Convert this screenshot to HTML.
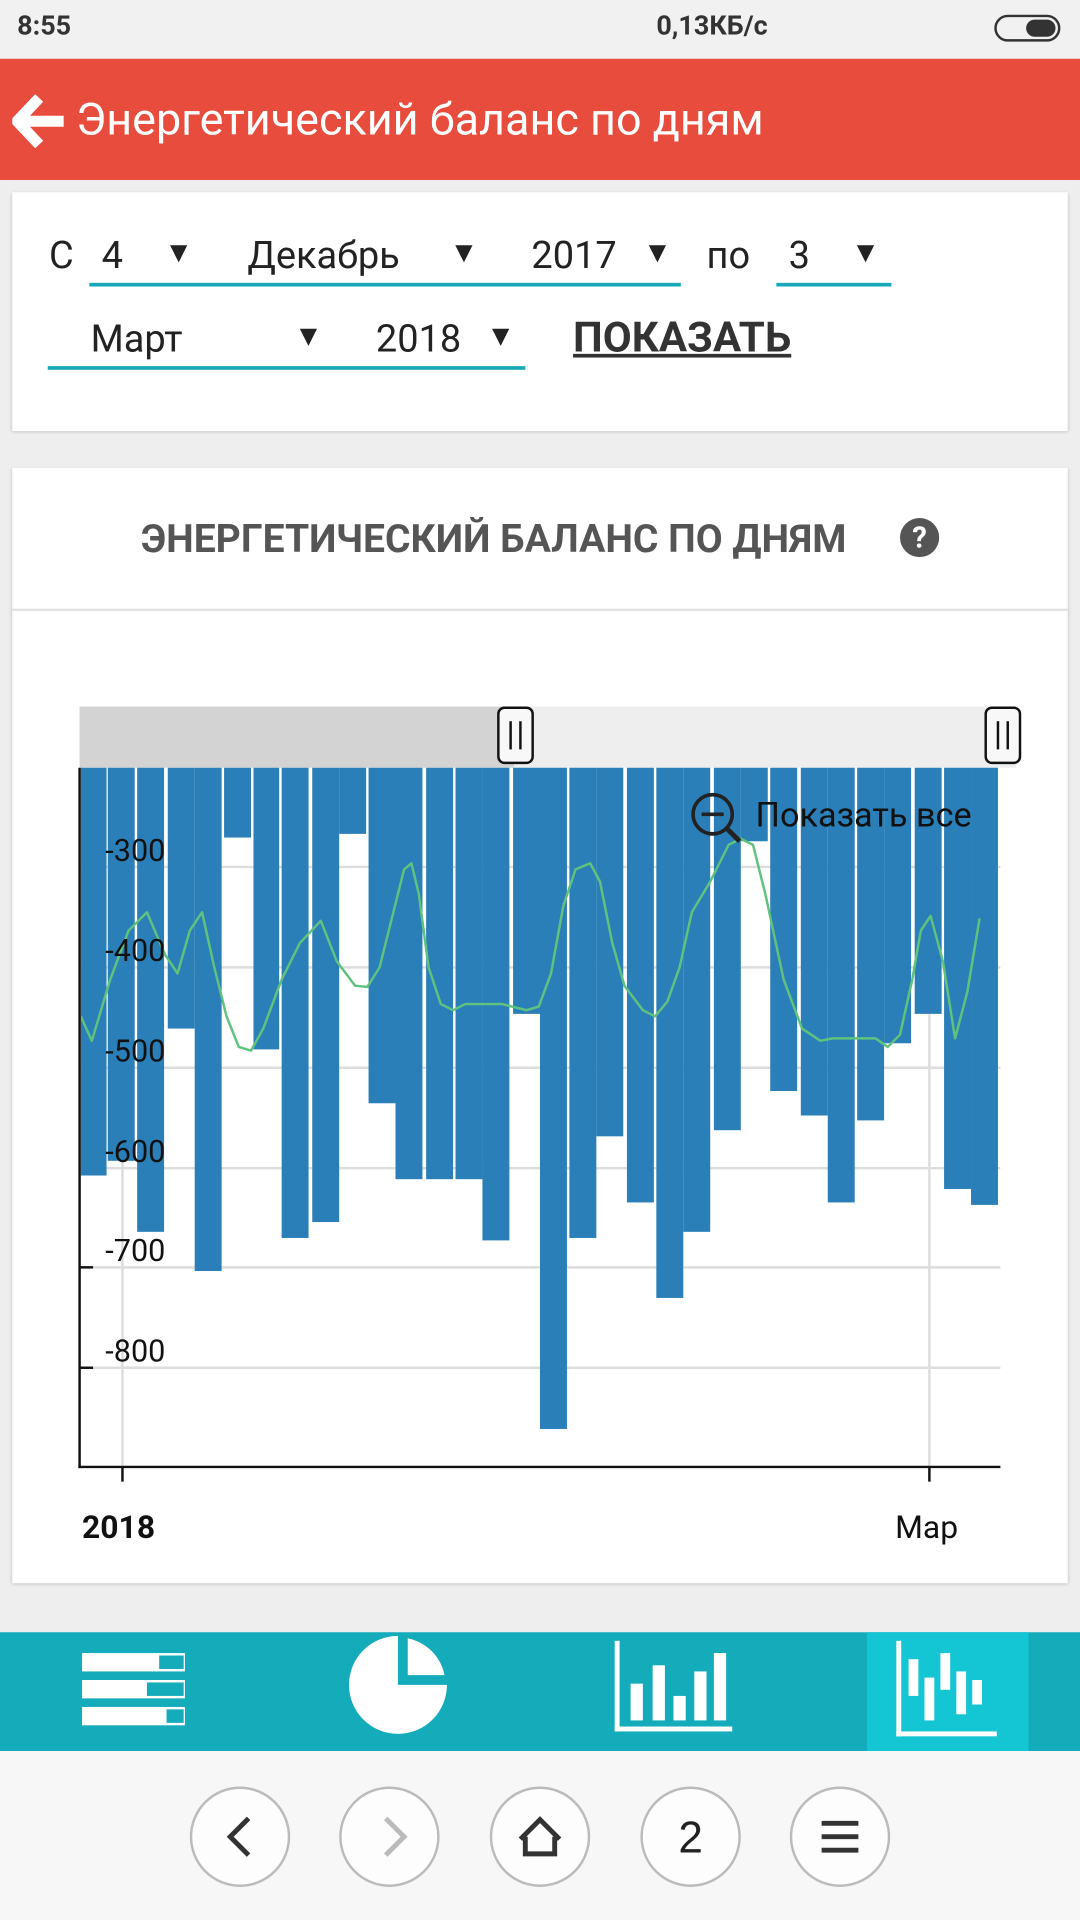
<!DOCTYPE html>
<html><head><meta charset="utf-8"><style>
html,body{margin:0;padding:0;width:1080px;height:1920px;overflow:hidden;background:#eeeeee;}
#w{position:absolute;left:0;top:0;width:882px;height:1568px;transform:scale(1.22449);transform-origin:0 0;font-family:"Roboto","Liberation Sans","DejaVu Sans",sans-serif;}
.abs{position:absolute;}
.card{position:absolute;background:#fff;box-shadow:0 1px 3px rgba(0,0,0,.2);}
.sel{position:absolute;font-size:31px;color:#222;}
.ul{position:absolute;height:3px;background:#17a9b9;}
</style></head><body><div id="w">
<div class="abs" style="left:0;top:0;width:882px;height:48px;background:#f1f1f1;"></div>
<div class="abs" style="left:14px;top:9px;font-size:22px;font-weight:bold;color:#333;">8:55</div>
<div class="abs" style="left:536px;top:9px;font-size:22px;font-weight:bold;color:#333;">0,13КБ/с</div>
<div class="abs" style="left:812px;top:12px;width:54px;height:22px;border:2px solid #333;border-radius:12px;box-sizing:border-box;"><div style="position:absolute;right:2px;top:2px;width:24px;height:14px;background:#333;border-radius:7px;"></div></div>
<div class="abs" style="left:0;top:48px;width:882px;height:99px;background:#e74c3c;"></div>
<svg class="abs" style="left:10px;top:76px" width="44" height="46"><path d="M22 4 L4 23 L22 42 M6 23 H42" stroke="#fff" stroke-width="9" fill="none" stroke-linejoin="round"/></svg>
<div class="abs" style="left:62px;top:76px;font-size:36.7px;color:#fff;">Энергетический баланс по дням</div>

<div class="card" style="left:10px;top:157px;width:862px;height:195px;"></div>
<div class="sel" style="left:40px;top:190px;">С</div>
<div class="sel" style="left:83px;top:190px;">4</div><div class="sel" style="left:134px;top:192px;font-size:24px">▼</div>
<div class="sel" style="left:202px;top:190px;">Декабрь</div><div class="sel" style="left:367px;top:192px;font-size:24px">▼</div>
<div class="sel" style="left:434px;top:190px;">2017</div><div class="sel" style="left:525px;top:192px;font-size:24px">▼</div>
<div class="ul" style="left:73px;top:231px;width:483px;"></div>
<div class="sel" style="left:577px;top:190px;">по</div>
<div class="sel" style="left:644px;top:190px;">3</div><div class="sel" style="left:695px;top:192px;font-size:24px">▼</div>
<div class="ul" style="left:634px;top:231px;width:94px;"></div>
<div class="sel" style="left:74px;top:258px;">Март</div><div class="sel" style="left:240px;top:260px;font-size:24px">▼</div>
<div class="sel" style="left:307px;top:258px;">2018</div><div class="sel" style="left:397px;top:260px;font-size:24px">▼</div>
<div class="ul" style="left:39px;top:299px;width:390px;"></div>
<div class="sel" style="left:468px;top:256px;font-weight:bold;text-decoration:underline;color:#333;font-size:34.3px;">ПОКАЗАТЬ</div>

<div class="card" style="left:10px;top:382px;width:862px;height:911px;"></div>
<div class="abs" style="left:115px;top:421px;font-size:31.9px;font-weight:bold;color:#555;">ЭНЕРГЕТИЧЕСКИЙ БАЛАНС ПО ДНЯМ</div>
<div class="abs" style="left:735px;top:423px;width:32px;height:32px;border-radius:50%;background:#555;color:#fff;font-weight:bold;font-size:24px;text-align:center;line-height:32px;">?</div>
<div class="abs" style="left:10px;top:497px;width:862px;height:2px;background:#e3e3e3;"></div>

<svg class="abs" style="left:0;top:0" width="882" height="1568">
<rect x="65" y="577" width="355" height="50" fill="#d3d3d3"/>
<rect x="420" y="577" width="410" height="50" fill="#eeeeee"/>
<g stroke="#ddd" stroke-width="2">
<line x1="65" y1="708" x2="817" y2="708"/><line x1="65" y1="790" x2="817" y2="790"/><line x1="65" y1="872" x2="817" y2="872"/><line x1="65" y1="954" x2="817" y2="954"/><line x1="65" y1="1035" x2="817" y2="1035"/><line x1="65" y1="1117" x2="817" y2="1117"/>
<line x1="100" y1="627" x2="100" y2="1198"/><line x1="759" y1="627" x2="759" y2="1198"/>
</g>
<g fill="#2b7fb8">
<rect x="66" y="627" width="21" height="333"/><rect x="88" y="627" width="22" height="321"/>
<rect x="112" y="627" width="22" height="379"/><rect x="137" y="627" width="22" height="213"/>
<rect x="159" y="627" width="22" height="411"/><rect x="183" y="627" width="22" height="57"/>
<rect x="207" y="627" width="21" height="230"/><rect x="230" y="627" width="22" height="384"/>
<rect x="255" y="627" width="22" height="371"/><rect x="277" y="627" width="22" height="54"/>
<rect x="301" y="627" width="22" height="274"/><rect x="323" y="627" width="22" height="336"/>
<rect x="348" y="627" width="22" height="336"/><rect x="372" y="627" width="22" height="336"/>
<rect x="394" y="627" width="22" height="386"/><rect x="419" y="627" width="22" height="201"/>
<rect x="441" y="627" width="22" height="540"/><rect x="465" y="627" width="22" height="384"/>
<rect x="487" y="627" width="22" height="301"/><rect x="512" y="627" width="22" height="355"/>
<rect x="536" y="627" width="22" height="433"/><rect x="558" y="627" width="22" height="379"/>
<rect x="583" y="627" width="22" height="296"/><rect x="605" y="627" width="22" height="60"/>
<rect x="629" y="627" width="22" height="264"/><rect x="654" y="627" width="22" height="284"/>
<rect x="676" y="627" width="22" height="355"/><rect x="700" y="627" width="22" height="288"/>
<rect x="722" y="627" width="22" height="225"/><rect x="747" y="627" width="22" height="201"/>
<rect x="771" y="627" width="22" height="344"/><rect x="793" y="627" width="22" height="357"/>
</g>
<polyline fill="none" stroke="#5fc27e" stroke-width="2" stroke-linejoin="round" points="66,830 75,850 90,800 105,760 120,745 135,780 145,795 155,760 165,745 175,790 185,830 195,855 205,858 215,840 230,800 245,770 262,752 275,785 290,805 300,806 310,790 320,750 330,710 336,705 342,730 350,790 360,820 370,825 380,820 410,820 430,825 440,822 450,795 460,740 470,710 482,705 490,720 500,770 510,805 525,825 535,830 545,818 555,790 565,745 580,720 595,690 605,685 615,690 625,730 640,800 655,840 670,850 680,848 715,848 725,855 735,845 745,800 752,760 760,748 770,785 780,848 790,810 800,750"/>
<g font-size="25" fill="#111" font-family="Roboto, Liberation Sans, sans-serif">
<text x="86" y="703">-300</text><text x="86" y="785">-400</text><text x="86" y="867">-500</text><text x="86" y="949">-600</text><text x="86" y="1030">-700</text><text x="86" y="1112">-800</text>
<text x="617" y="675" font-size="28">Показать все</text>
<text x="67" y="1256" font-weight="bold" font-size="26">2018</text><text x="731" y="1256" font-size="26">Мар</text>
</g>
<circle cx="582" cy="665" r="16" fill="none" stroke="#222" stroke-width="3"/><line x1="573" y1="665" x2="591" y2="665" stroke="#222" stroke-width="3"/><line x1="594" y1="677" x2="604" y2="687" stroke="#222" stroke-width="4"/>
<g stroke="#111" stroke-width="2" fill="none">
<line x1="65" y1="627" x2="65" y2="1199"/><line x1="64" y1="1198" x2="817" y2="1198"/>
<line x1="100" y1="1198" x2="100" y2="1210"/><line x1="759" y1="1198" x2="759" y2="1210"/>
<line x1="65" y1="1035" x2="76" y2="1035"/><line x1="65" y1="1117" x2="76" y2="1117"/>
<rect x="407" y="578" width="28" height="45" rx="5" fill="#f8f8f8"/><rect x="805" y="578" width="28" height="45" rx="5" fill="#f8f8f8"/>
<line x1="417" y1="589" x2="417" y2="612"/><line x1="425" y1="589" x2="425" y2="612"/><line x1="815" y1="589" x2="815" y2="612"/><line x1="823" y1="589" x2="823" y2="612"/>
</g>
<rect x="0" y="1333" width="882" height="97" fill="#14abbb"/>
<rect x="708" y="1333" width="132" height="97" fill="#14c5d4"/>
<g fill="#fff">
<rect x="67" y="1350" width="84" height="15"/><rect x="67" y="1372" width="84" height="15"/><rect x="67" y="1394" width="84" height="15"/>
<path d="M325 1336 A40 40 0 1 0 365 1376 L325 1376 Z"/><path d="M333 1338 A38 38 0 0 1 363 1368 L333 1368 Z"/>
<rect x="502" y="1340" width="4" height="74"/><rect x="502" y="1410" width="96" height="4"/>
<rect x="515" y="1375" width="10" height="30"/><rect x="533" y="1360" width="10" height="45"/><rect x="550" y="1385" width="10" height="20"/><rect x="567" y="1365" width="10" height="40"/><rect x="583" y="1350" width="10" height="55"/>
<rect x="732" y="1340" width="4" height="78"/><rect x="732" y="1414" width="82" height="4"/>
<rect x="742" y="1355" width="8" height="30"/><rect x="755" y="1370" width="8" height="35"/><rect x="768" y="1350" width="8" height="30"/><rect x="781" y="1365" width="8" height="35"/><rect x="794" y="1372" width="8" height="20"/>
</g>
<g>
<rect x="130" y="1352" width="20" height="11" fill="#14abbb"/><rect x="120" y="1374" width="30" height="11" fill="#14abbb"/><rect x="136" y="1396" width="14" height="11" fill="#14abbb"/>
</g>
<rect x="0" y="1430" width="882" height="138" fill="#f7f7f7"/>
<g fill="#fdfdfd" stroke="#bbb" stroke-width="2">
<circle cx="196" cy="1500" r="40"/><circle cx="318" cy="1500" r="40"/><circle cx="441" cy="1500" r="40"/><circle cx="564" cy="1500" r="40"/><circle cx="686" cy="1500" r="40"/>
</g>
<g stroke="#333" stroke-width="4" fill="none">
<polyline points="203,1485 188,1500 203,1515"/>
<polyline points="315,1485 330,1500 315,1515" stroke="#bbb"/>
<path d="M425 1502 L441 1486 L457 1502 M429 1500 V1514 H453 V1500"/>
<line x1="671" y1="1489" x2="701" y2="1489"/><line x1="671" y1="1500" x2="701" y2="1500"/><line x1="671" y1="1511" x2="701" y2="1511"/>
</g>
<text x="564" y="1513" font-size="36" text-anchor="middle" fill="#222" font-family="Liberation Sans, sans-serif">2</text>
</svg>
</div></body></html>
